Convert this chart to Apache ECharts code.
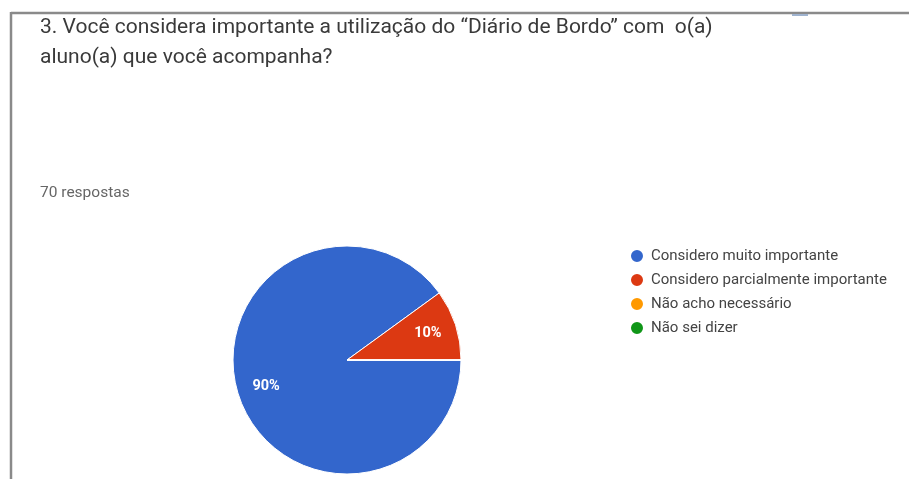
<!DOCTYPE html>
<html>
<head>
<meta charset="utf-8">
<script src="https://cdn.jsdelivr.net/npm/echarts@6/dist/echarts.min.js"></script>
<style>
html,body{margin:0;padding:0;background:#fff;}
#chart{width:909px;height:479px;}
</style>
</head>
<body>
<div id="chart"></div>
<script>
var titleText = '3. Você considera importante a utilização do “Diário de Bordo” com  o(a)\naluno(a) que você acompanha?';
var subtitleText = '70 respostas';
var categories = ['Considero muito importante', 'Considero parcialmente importante', 'Não acho necessário', 'Não sei dizer'];
var counts = [63, 7, 0, 0];
var colors = ['#3366cc', '#dc3912', '#ff9900', '#109618'];

var pieData = categories.map(function (c, i) {
  return { name: c, value: counts[i], itemStyle: { color: colors[i] } };
});
var labelData = categories.map(function (c, i) {
  return { name: c, value: counts[i] };
});

var chart = echarts.init(document.getElementById('chart'), null, { renderer: 'canvas' });
chart.setOption({
  animation: false,
  backgroundColor: '#ffffff',
  title: [
    {
      text: titleText,
      left: 35, top: 8,
      textStyle: { fontFamily: 'Roboto', fontSize: 21, fontWeight: 'normal', color: '#3a3a3a', lineHeight: 30 }
    },
    {
      text: subtitleText,
      left: 35, top: 180,
      textStyle: { fontFamily: 'Roboto', fontSize: 15.5, fontWeight: 'normal', color: '#666666', lineHeight: 16 }
    }
  ],
  legend: {
    orient: 'vertical',
    left: 624, top: 243,
    icon: 'circle',
    itemWidth: 14, itemHeight: 14, itemGap: 8,
    data: categories,
    textStyle: { fontFamily: 'Roboto', fontSize: 15, lineHeight: 15, color: '#444444', padding: [0, 0, 0, 2] },
    selectedMode: false
  },
  graphic: [
    { type: 'line', shape: { x1: 11, y1: 13, x2: 909, y2: 13 }, style: { stroke: '#8a8a8a', lineWidth: 2.5 } },
    { type: 'line', shape: { x1: 11, y1: 12, x2: 11, y2: 479 }, style: { stroke: '#8a8a8a', lineWidth: 2.5 } },
    { type: 'rect', shape: { x: 792, y: 14, width: 16, height: 2 }, style: { fill: '#9fb3cf' } }
  ],
  series: [
    {
      type: 'pie',
      center: [347, 360],
      radius: [0, 114],
      startAngle: 0,
      clockwise: true,
      data: pieData,
      label: { show: false },
      labelLine: { show: false },
      itemStyle: { borderColor: '#ffffff', borderWidth: 1 },
      silent: true
    },
    {
      type: 'pie',
      center: [347, 360],
      radius: [50, 114],
      startAngle: 0,
      clockwise: true,
      data: labelData,
      itemStyle: { color: 'rgba(0,0,0,0)', borderWidth: 0 },
      silent: true,
      labelLine: { show: false },
      label: {
        show: true,
        position: 'inside',
        fontFamily: 'Roboto',
        fontSize: 14.5,
        fontWeight: 'bold',
        color: '#ffffff',
        formatter: function (p) { return p.value > 0 ? Math.round(p.percent) + '%' : ''; }
      }
    }
  ]
});
</script>
</body>
</html>
